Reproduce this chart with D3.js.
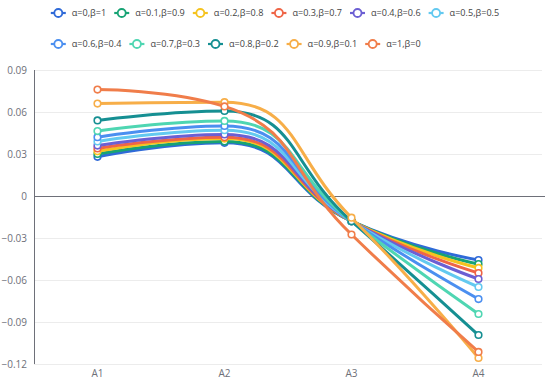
<!DOCTYPE html>
<html>
<head>
<meta charset="utf-8">
<script src="https://cdn.jsdelivr.net/npm/d3@7/dist/d3.min.js"></script>
<style>
  html, body { margin: 0; padding: 0; background: #fff; }
  svg { display: block; font-family: "Open Sans", "Noto Sans", sans-serif; }
</style>
</head>
<body>
<div id="chart"></div>
<script>
(function () {

    var categories = ['A1', 'A2', 'A3', 'A4'];
    var yTicks = [0.09, 0.06, 0.03, 0, -0.03, -0.06, -0.09, -0.12];
    var seriesNames = ['α=0,β=1', 'α=0.1,β=0.9', 'α=0.2,β=0.8', 'α=0.3,β=0.7', 'α=0.4,β=0.6',
        'α=0.5,β=0.5', 'α=0.6,β=0.4', 'α=0.7,β=0.3', 'α=0.8,β=0.2', 'α=0.9,β=0.1', 'α=1,β=0'];
    var colors = ['#2f6ad8', '#17a374', '#f5c31f', '#ef6547', '#6c5fd3', '#63c9f0',
        '#4b8ff0', '#4fd6b2', '#158f92', '#f7ae48', '#f07d4a'];

    var s0 = [0.028, 0.038, -0.018, -0.0457];
    var s1 = [0.030, 0.039, -0.018, -0.0486];
    var s2 = [0.032, 0.041, -0.018, -0.0514];
    var s3 = [0.034, 0.042, -0.018, -0.055];
    var s4 = [0.036, 0.044, -0.018, -0.0593];
    var s5 = [0.039, 0.047, -0.018, -0.065];
    var s6 = [0.042, 0.050, -0.018, -0.0736];
    var s7 = [0.0464, 0.0536, -0.018, -0.0843];
    var s8 = [0.054, 0.0607, -0.018, -0.0993];
    var s9 = [0.066, 0.067, -0.0155, -0.1157];
    var s10 = [0.076, 0.064, -0.0275, -0.1114];
    var seriesValues = [s0, s1, s2, s3, s4, s5, s6, s7, s8, s9, s10];

    var width = 550, height = 386;
    var left = 34, right = 542, top = 70, bottom = 364;

    var svg = d3.select('#chart').append('svg')
        .attr('width', width)
        .attr('height', height);

    var x = d3.scaleBand().domain(categories).range([left, right]);
    var y = d3.scaleLinear().domain([-0.12, 0.09]).range([bottom, top]);

    // split lines
    svg.append('g').selectAll('line')
        .data(yTicks)
        .enter()
        .append('line')
        .attr('x1', left).attr('x2', right)
        .attr('y1', function (d) { return Math.round(y(d)) + 0.5; })
        .attr('y2', function (d) { return Math.round(y(d)) + 0.5; })
        .style('stroke', '#ececec')
        .style('stroke-width', 1);

    // y labels
    svg.append('g').selectAll('text')
        .data(yTicks)
        .enter()
        .append('text')
        .attr('x', left - 7)
        .attr('y', function (d) { return y(d); })
        .attr('dy', '0.35em')
        .attr('text-anchor', 'end')
        .style('font-size', '10px')
        .style('fill', '#6e7079')
        .text(function (d) { return d === 0 ? '0' : d3.format('.2f')(d); });

    // x labels
    svg.append('g').selectAll('text')
        .data(categories)
        .enter()
        .append('text')
        .attr('x', function (d) { return x(d) + x.bandwidth() / 2; })
        .attr('y', bottom + 13)
        .attr('text-anchor', 'middle')
        .style('font-size', '10px')
        .style('fill', '#6e7079')
        .text(function (d) { return d; });

    // axis lines
    svg.append('line')
        .attr('x1', left + 0.5).attr('x2', left + 0.5)
        .attr('y1', top).attr('y2', bottom)
        .style('stroke', '#6e7079').style('stroke-width', 1);
    svg.append('line')
        .attr('x1', left).attr('x2', right + 3)
        .attr('y1', Math.round(y(0)) + 0.5).attr('y2', Math.round(y(0)) + 0.5)
        .style('stroke', '#6e7079').style('stroke-width', 1);

    // echarts style smooth line (smooth = 0.5, clamped control points)
    function smoothPath(pts) {
        var smooth = 0.5;
        var p = d3.path();
        var prevX, prevY, cpx0, cpy0, cpx1, cpy1;
        for (var i = 0; i < pts.length; i++) {
            var px = pts[i][0], py = pts[i][1];
            if (i === 0) {
                p.moveTo(px, py);
                cpx0 = px; cpy0 = py;
            } else {
                var nextCpx0 = px, nextCpy0 = py;
                if (i === pts.length - 1) {
                    cpx1 = px; cpy1 = py;
                } else {
                    var nx = pts[i + 1][0], ny = pts[i + 1][1];
                    var vx = nx - prevX, vy = ny - prevY;
                    var lenPrev = Math.sqrt((px - prevX) * (px - prevX) + (py - prevY) * (py - prevY));
                    var lenNext = Math.sqrt((nx - px) * (nx - px) + (ny - py) * (ny - py));
                    var ratio = lenNext / (lenNext + lenPrev);
                    nextCpx0 = px + vx * smooth * ratio;
                    nextCpy0 = py + vy * smooth * ratio;
                    nextCpx0 = Math.max(Math.min(nextCpx0, Math.max(nx, px)), Math.min(nx, px));
                    nextCpy0 = Math.max(Math.min(nextCpy0, Math.max(ny, py)), Math.min(ny, py));
                    vx = nextCpx0 - px; vy = nextCpy0 - py;
                    cpx1 = px - vx * lenPrev / lenNext;
                    cpy1 = py - vy * lenPrev / lenNext;
                    cpx1 = Math.max(Math.min(cpx1, Math.max(prevX, px)), Math.min(prevX, px));
                    cpy1 = Math.max(Math.min(cpy1, Math.max(prevY, py)), Math.min(prevY, py));
                    vx = px - cpx1; vy = py - cpy1;
                    nextCpx0 = px + vx * lenNext / lenPrev;
                    nextCpy0 = py + vy * lenNext / lenPrev;
                }
                p.bezierCurveTo(cpx0, cpy0, cpx1, cpy1, px, py);
                cpx0 = nextCpx0; cpy0 = nextCpy0;
            }
            prevX = px; prevY = py;
        }
        return p.toString();
    }

    var series = seriesNames.map(function (name, i) {
        return {
            name: name,
            color: colors[i],
            points: seriesValues[i].map(function (v, j) {
                return [x(categories[j]) + x.bandwidth() / 2, y(v)];
            })
        };
    });

    var groups = svg.append('g').selectAll('g.series')
        .data(series)
        .enter()
        .append('g')
        .attr('class', 'series');

    groups.append('path')
        .attr('d', function (d) { return smoothPath(d.points); })
        .style('fill', 'none')
        .style('stroke', function (d) { return d.color; })
        .style('stroke-width', 3)
        .style('stroke-linejoin', 'round');

    groups.selectAll('circle')
        .data(function (d) { return d.points.map(function (pt) { return { pt: pt, color: d.color }; }); })
        .enter()
        .append('circle')
        .attr('cx', function (d) { return d.pt[0]; })
        .attr('cy', function (d) { return d.pt[1]; })
        .attr('r', 3.3)
        .style('fill', '#fff')
        .style('stroke', function (d) { return d.color; })
        .style('stroke-width', 1.6);

    // legend, wrapped in rows like echarts
    var legend = svg.append('g');
    var iconW = 15, textGap = 6, itemGap = 8, rowH = 31, maxRowW = 480;
    var items = legend.selectAll('g')
        .data(series)
        .enter()
        .append('g');
    items.append('line')
        .attr('x1', 0).attr('x2', iconW)
        .attr('y1', 0).attr('y2', 0)
        .style('stroke', function (d) { return d.color; })
        .style('stroke-width', 2.2);
    items.append('circle')
        .attr('cx', iconW / 2).attr('cy', 0).attr('r', 4)
        .style('fill', '#fff')
        .style('stroke', function (d) { return d.color; })
        .style('stroke-width', 1.8);
    items.append('text')
        .attr('x', iconW + textGap)
        .attr('dy', '0.35em')
        .style('font-size', '9.1px')
        .style('fill', '#444')
        .text(function (d) { return d.name; });

    var cx = 0, row = 0, rowWidths = [0];
    var pos = [];
    items.each(function () {
        var w = iconW + textGap + this.querySelector('text').getComputedTextLength();
        if (cx > 0 && cx + w > maxRowW) { row++; cx = 0; rowWidths.push(0); }
        pos.push([cx, row]);
        rowWidths[row] = cx + w;
        cx += w + itemGap;
    });
    var blockW = d3.max(rowWidths);
    var startX = (width - blockW) / 2;
    items.attr('transform', function (d, i) {
        return 'translate(' + (startX + pos[i][0]) + ',' + (13 + pos[i][1] * rowH) + ')';
    });
})();
</script>
</body>
</html>
